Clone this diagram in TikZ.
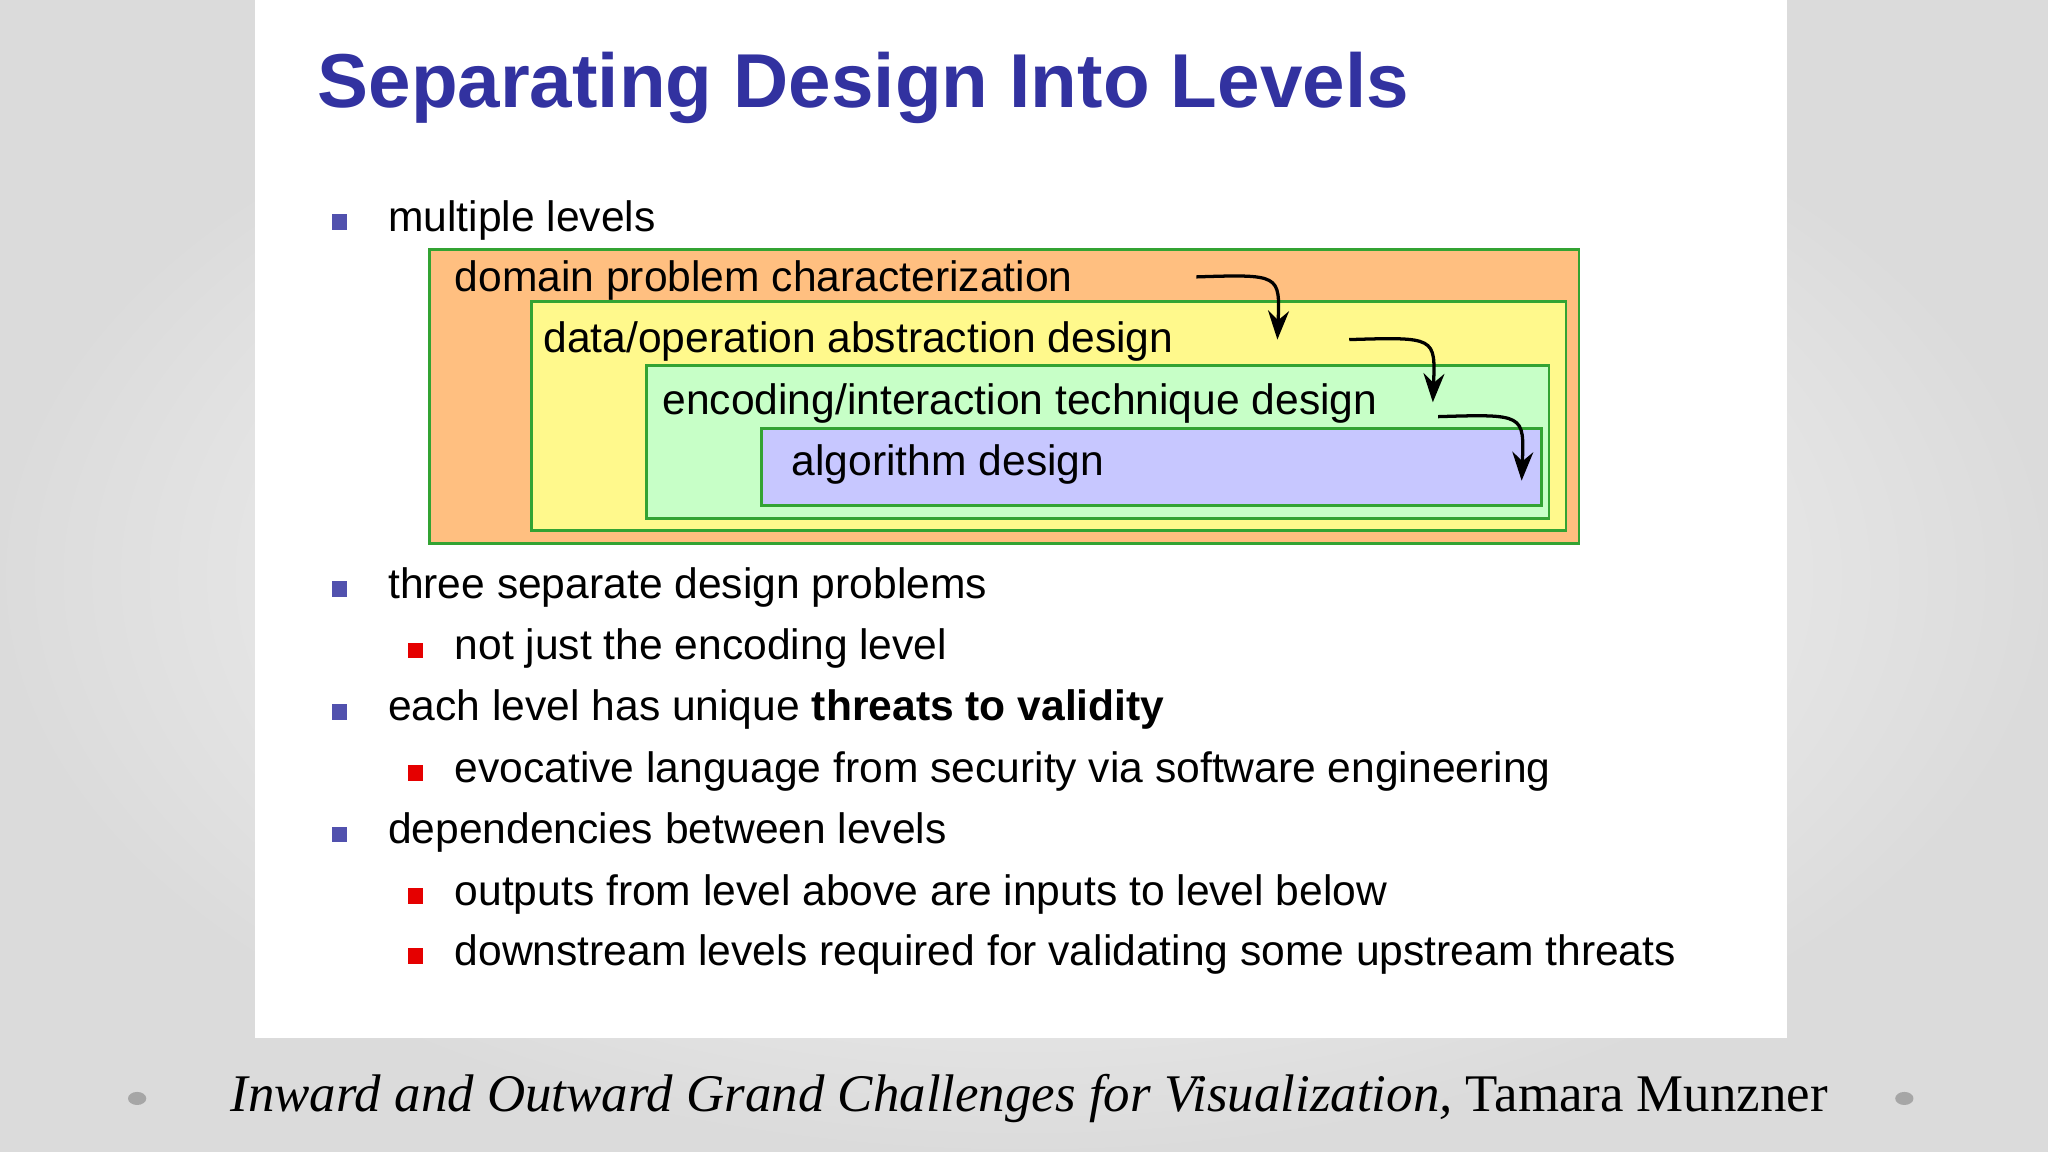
\documentclass[tikz,border=0pt]{standalone}
\usepackage{fontspec}
\setmainfont{Liberation Sans}
\newfontfamily\footfont{Liberation Serif}
\usetikzlibrary{arrows.meta}
\definecolor{titleblue}{RGB}{50,50,160}
\begin{document}
\begin{tikzpicture}[x=1pt,y=-1pt,
 lvl/.style={draw=green!55!black!80,line width=2pt},
 txt/.style={anchor=base west,inner sep=0,font=\fontsize{32.6}{38}\selectfont},
 bb/.style={fill=titleblue!85,minimum size=12pt,inner sep=0},
 rb/.style={fill=red!90!black,minimum size=12pt,inner sep=0},
 arr/.style={-{Stealth[length=22pt,width=16pt]},line width=2.5pt}]
\useasboundingbox (0,0) rectangle (1568,882);
\shade[inner color=white,outer color=gray!28] (0,0) rectangle (1568,882);
\fill[white] (195,0) rectangle (1368,795);
\node[anchor=base west,inner sep=0,font=\fontsize{58.5}{66}\bfseries\selectfont,text=titleblue] (title) at (243,82) {Separating Design Into Levels};
\draw[lvl,fill=orange!50!white] (329,191) rectangle (1209,416);
\draw[lvl,fill=yellow!45!white] (407,231) rectangle (1199,406);
\draw[lvl,fill=green!22!white] (495,280) rectangle (1186,397);
\draw[lvl,fill=blue!22!white] (583,328) rectangle (1180,387);
\node[txt] (l1) at (348,223) {domain problem characterization};
\node[txt] (l2) at (416,270) {data/operation abstraction design};
\node[txt] (l3) at (507,317) {encoding/interaction technique design};
\node[txt] (l4) at (606,364) {algorithm design};
\coordinate (a1) at (916,212); \coordinate (b1) at (978,260);
\coordinate (a2) at (1033,260); \coordinate (b2) at (1097,308);
\coordinate (a3) at (1101,319); \coordinate (b3) at (1165,368);
\draw[arr] (a1) .. controls (980,210) .. (b1);
\draw[arr] (a2) .. controls (1099,258) .. (b2);
\draw[arr] (a3) .. controls (1167,317) .. (b3);
\node[bb] (m1) at (260,170) {};
\node[txt] (t1) at (297,177) {multiple levels};
\node[bb] (m2) at (260,451) {};
\node[txt] (t2) at (297,458) {three separate design problems};
\node[rb] (r1) at (318,498) {};
\node[txt] (t3) at (348,505) {not just the encoding level};
\node[bb] (m3) at (260,545) {};
\node[txt] (t4) at (297,552) {each level has unique \textbf{threats to validity}};
\node[rb] (r2) at (318,592) {};
\node[txt] (t5) at (348,599) {evocative language from security via software engineering};
\node[bb] (m4) at (260,639) {};
\node[txt] (t6) at (297,646) {dependencies between levels};
\node[rb] (r3) at (318,686) {};
\node[txt] (t7) at (348,693) {outputs from level above are inputs to level below};
\node[rb] (r4) at (318,732) {};
\node[txt] (t8) at (348,739) {downstream levels required for validating some upstream threats};
\node[anchor=base,inner sep=0,font=\footfont\fontsize{40.5}{46}\selectfont] (foot) at (788,851) {\textit{Inward and Outward Grand Challenges for Visualization,} Tamara Munzner};
\fill[gray!70] (105,841) ellipse (7 and 5);
\fill[gray!70] (1458,841) ellipse (7 and 5);
\end{tikzpicture}
\end{document}
